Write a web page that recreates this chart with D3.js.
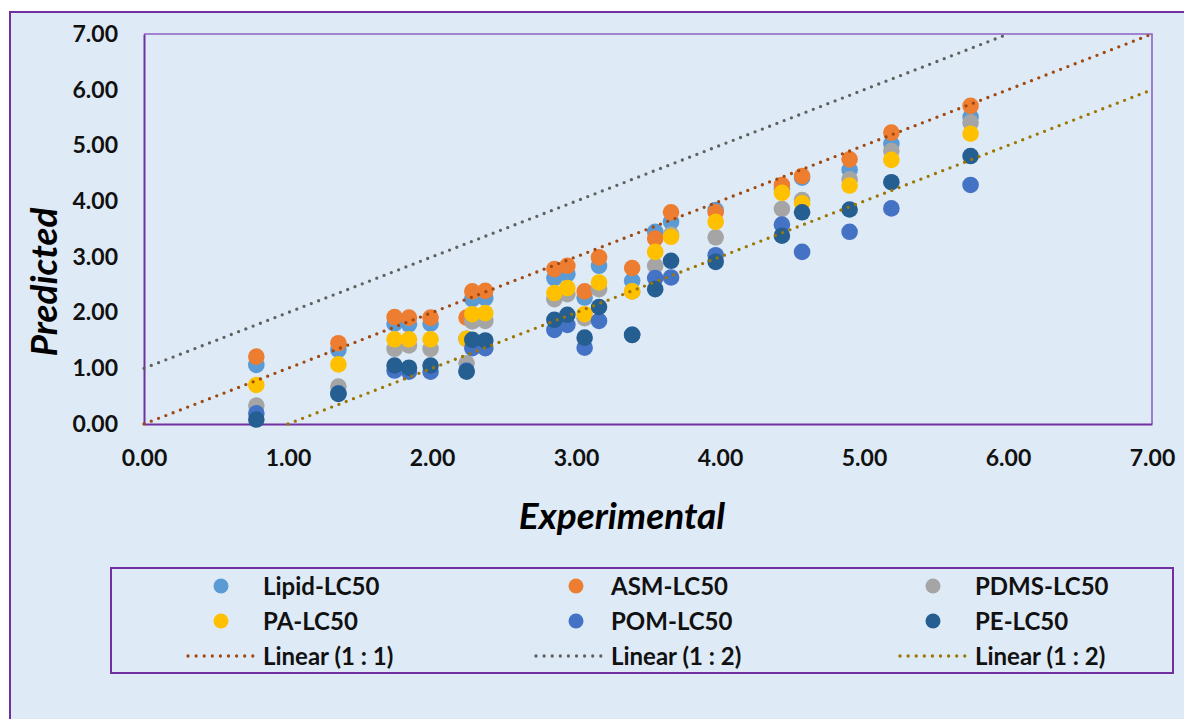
<!DOCTYPE html>
<html>
<head>
<meta charset="utf-8">
<script src="https://cdn.jsdelivr.net/npm/d3@7"></script>
<style>
  html, body { margin: 0; padding: 0; background: #ffffff; }
  svg { display: block; }
  text { font-family: Lato, "Open Sans", sans-serif; }
</style>
</head>
<body>
<svg id="chart" width="1184" height="719"></svg>
<script>
// ---------- data ----------
const experimental = [0.78, 1.35, 1.74, 1.84, 1.99, 2.24, 2.28, 2.37, 2.85, 2.94, 3.06, 3.16, 3.39, 3.55, 3.66, 3.97, 4.43, 4.57, 4.90, 5.19, 5.74];
const lipid = [1.06, 1.33, 1.80, 1.79, 1.80, 1.53, 2.24, 2.26, 2.62, 2.69, 2.27, 2.84, 2.57, 3.45, 3.63, 3.84, 4.22, 4.42, 4.56, 5.03, 5.51];
const asm   = [1.21, 1.45, 1.92, 1.91, 1.91, 1.91, 2.38, 2.39, 2.78, 2.84, 2.38, 2.99, 2.80, 3.33, 3.80, 3.80, 4.29, 4.45, 4.75, 5.23, 5.71];
const pdms  = [0.33, 0.67, 1.35, 1.41, 1.35, 1.09, 1.84, 1.85, 2.24, 2.33, 1.90, 2.42, 2.38, 2.84, 3.40, 3.35, 3.86, 4.02, 4.39, 4.90, 5.41];
const pa    = [0.70, 1.07, 1.52, 1.52, 1.52, 1.53, 1.97, 1.99, 2.35, 2.44, 1.97, 2.54, 2.38, 3.09, 3.36, 3.63, 4.15, 3.96, 4.28, 4.74, 5.21];
const pom   = [0.19, 0.55, 0.96, 0.94, 0.94, 0.96, 1.36, 1.36, 1.69, 1.78, 1.37, 1.85, 1.60, 2.62, 2.63, 3.03, 3.58, 3.09, 3.45, 3.87, 4.29];
const pe    = [0.08, 0.54, 1.05, 1.01, 1.05, 0.94, 1.51, 1.50, 1.87, 1.96, 1.55, 2.10, 1.60, 2.42, 2.93, 2.91, 3.38, 3.80, 3.85, 4.34, 4.81];

const seriesNames  = ["Lipid-LC50", "ASM-LC50", "PDMS-LC50", "PA-LC50", "POM-LC50", "PE-LC50"];
const seriesValues = [lipid, asm, pdms, pa, pom, pe];
const seriesColors = ["#5B9BD5", "#ED7D31", "#A5A5A5", "#FFC000", "#4472C4", "#255E91"];

const lineNames   = ["Linear (1 : 1)", "Linear (1 : 2)", "Linear (1 : 2)"];
const lineStarts  = [[0, 0], [0, 1], [1, 0]];
const lineEnds    = [[7, 7], [6, 7], [7, 6]];
const lineColors  = ["#A0480E", "#606060", "#9C7600"];

const tickValues = [0, 1, 2, 3, 4, 5, 6, 7];
const xTitle = "Experimental";
const yTitle = "Predicted";

// ---------- layout ----------
const svg = d3.select("#chart");
const W = 1184, H = 719;
const plot = { left: 144, right: 1152, top: 34, bottom: 424 };

svg.append("rect").attr("x", 0).attr("y", 0).attr("width", W).attr("height", H).attr("fill", "#ffffff");
svg.append("rect").attr("x", 10).attr("y", 12).attr("width", W + 20).attr("height", H + 20)
   .attr("fill", "#DEEAF6").attr("stroke", "#7030A0").attr("stroke-width", 2);

const x = d3.scaleLinear().domain([0, 7]).range([plot.left, plot.right]);
const y = d3.scaleLinear().domain([0, 7]).range([plot.bottom, plot.top]);

// plot border (top/right lighter)
svg.append("path")
   .attr("d", `M${plot.left},${plot.top}H${plot.right}V${plot.bottom}`)
   .attr("fill", "none").attr("stroke", "#8E62C2").attr("stroke-width", 1.6);

const fmt = d3.format(".2f");
const xAxis = svg.append("g").attr("transform", `translate(0,${plot.bottom})`)
   .call(d3.axisBottom(x).tickValues(tickValues).tickFormat(fmt).tickSize(0).tickPadding(26));
const yAxis = svg.append("g").attr("transform", `translate(${plot.left},0)`)
   .call(d3.axisLeft(y).tickValues(tickValues).tickFormat(fmt).tickSize(0).tickPadding(26));
[xAxis, yAxis].forEach(g => {
  g.select(".domain").attr("stroke", "#7030A0").attr("stroke-width", 2);
  g.selectAll("text").attr("font-family", "Lato, sans-serif").attr("font-weight", 700)
   .attr("font-size", 23).attr("fill", "#111111");
});

// axis titles
svg.append("text").attr("x", 622).attr("y", 529).attr("text-anchor", "middle")
   .attr("font-size", 37).attr("font-weight", 700).attr("font-style", "italic").attr("fill", "#000")
   .text(xTitle);
svg.append("text").attr("transform", "translate(57,282) rotate(-90)").attr("text-anchor", "middle")
   .attr("font-size", 37).attr("font-weight", 700).attr("font-style", "italic").attr("fill", "#000")
   .text(yTitle);

// points
seriesValues.forEach((vals, si) => {
  svg.append("g").selectAll("circle").data(vals).join("circle")
     .attr("cx", (d, i) => x(experimental[i]))
     .attr("cy", d => y(d))
     .attr("r", 8.3)
     .attr("fill", seriesColors[si]);
});

// dotted reference lines
lineStarts.forEach((s, i) => {
  svg.append("line")
     .attr("x1", x(s[0])).attr("y1", y(s[1]))
     .attr("x2", x(lineEnds[i][0])).attr("y2", y(lineEnds[i][1]))
     .attr("stroke", lineColors[i]).attr("stroke-width", 3.3)
     .attr("stroke-linecap", "round").attr("stroke-dasharray", "0 7.8");
});

// legend
svg.append("rect").attr("x", 111).attr("y", 568).attr("width", 1062).attr("height", 105)
   .attr("fill", "none").attr("stroke", "#7030A0").attr("stroke-width", 2);

const colMarkerX = [221, 576, 933];
const colTextX = [263, 611, 975];
const rowY = [586, 621, 656];
seriesNames.forEach((name, i) => {
  const c = i % 3, r = Math.floor(i / 3);
  svg.append("circle").attr("cx", colMarkerX[c]).attr("cy", rowY[r]).attr("r", 7.5).attr("fill", seriesColors[i]);
  svg.append("text").attr("x", colTextX[c]).attr("y", rowY[r]).attr("dy", "0.36em")
     .attr("font-size", 24).attr("font-weight", 700).attr("fill", "#111").text(name);
});
lineNames.forEach((name, i) => {
  svg.append("line").attr("x1", colTextX[i] - 75).attr("x2", colTextX[i] - 10)
     .attr("y1", rowY[2]).attr("y2", rowY[2])
     .attr("stroke", lineColors[i]).attr("stroke-width", 3.3)
     .attr("stroke-linecap", "round").attr("stroke-dasharray", "0 8.1");
  svg.append("text").attr("x", colTextX[i]).attr("y", rowY[2]).attr("dy", "0.36em")
     .attr("font-size", 24).attr("font-weight", 700).attr("fill", "#111").text(name);
});
</script>
</body>
</html>
